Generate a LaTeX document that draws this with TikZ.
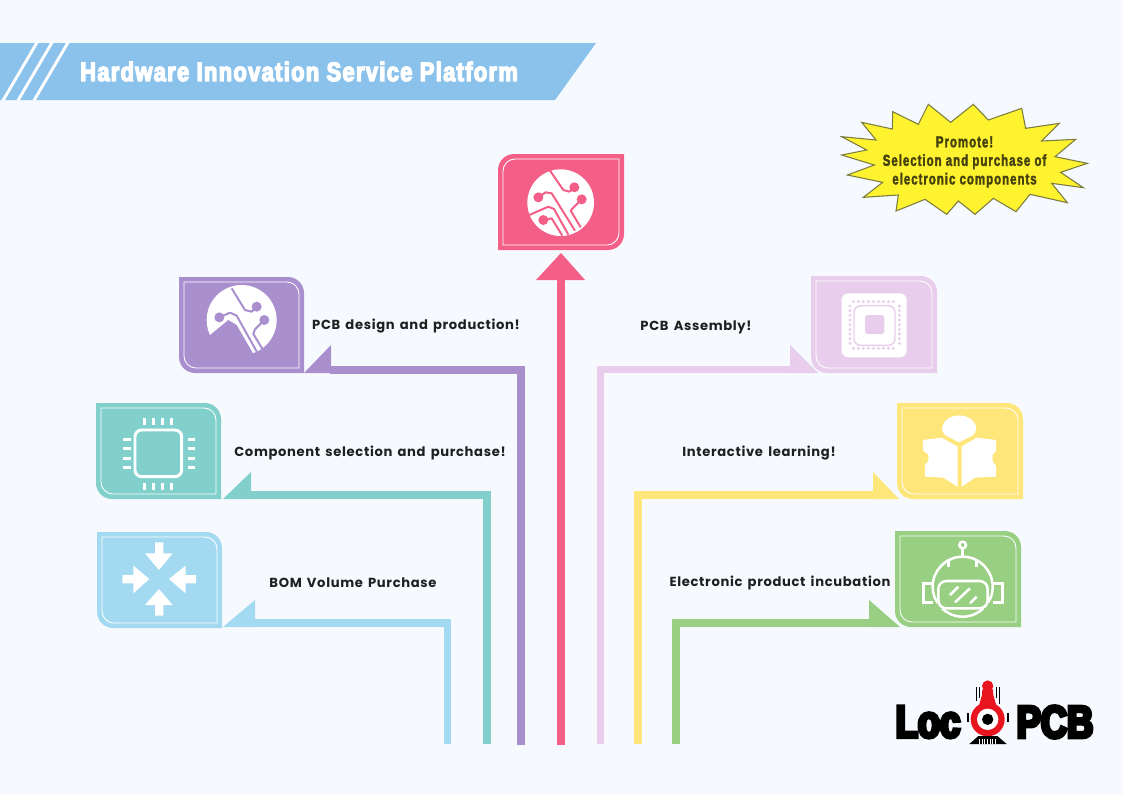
\documentclass[tikz,border=0pt]{standalone}
\usepackage{fontspec}
\setmainfont{Poppins}
\newfontfamily\titlefont[FakeStretch=.82,FakeBold=5,LetterSpace=5]{Liberation Sans Bold}
\newfontfamily\starfont[FakeStretch=.72,FakeBold=2,LetterSpace=6]{Liberation Sans Bold}
\newfontfamily\logofont[FakeStretch=.8,FakeBold=8]{Liberation Sans Bold}
\newfontfamily\labelfont[LetterSpace=5,WordSpace=1.5]{Poppins Bold}
\definecolor{bgc}{HTML}{F6FAFE}
\definecolor{bandc}{HTML}{8AC2EC}
\definecolor{pinkc}{HTML}{F45F87}
\definecolor{purc}{HTML}{A98FCE}
\definecolor{tealc}{HTML}{82D0CC}
\definecolor{bluec}{HTML}{A3D9F1}
\definecolor{palec}{HTML}{E9CDEC}
\definecolor{yelc}{HTML}{FEE67A}
\definecolor{grnc}{HTML}{98CF82}
\definecolor{starc}{HTML}{FFF22E}
\definecolor{stard}{HTML}{7C7C40}
\definecolor{startx}{HTML}{45420F}
\definecolor{logor}{HTML}{E8141E}
\tikzset{
  labeltext/.style={font=\labelfont\fontsize{9.85}{12}\selectfont,text=black!88,inner sep=0pt,anchor=center},
  startext/.style={font=\starfont\fontsize{12}{13.9}\selectfont,text=startx,inner sep=0pt,align=center},
  cardnode/.style={inner sep=0pt,minimum width=94.5pt,minimum height=72pt},
  conn/.style={line width=6pt},
  thinw/.style={line width=.65pt,white},
}
% TR+BL rounded
\newcommand{\pathA}[5]{(#1,#2) -- ({#3-#5},#2) .. controls ({#3-.45*#5},#2) and (#3,{#2+.45*#5}) .. (#3,{#2+#5}) -- (#3,#4) -- ({#1+#5},#4) .. controls ({#1+.45*#5},#4) and (#1,{#4-.45*#5}) .. (#1,{#4-#5}) -- cycle}
% TL+BR rounded
\newcommand{\pathB}[5]{({#1+#5},#2) -- (#3,#2) -- (#3,{#4-#5}) .. controls (#3,{#4-.45*#5}) and ({#3-.45*#5},#4) .. ({#3-#5},#4) -- (#1,#4) -- (#1,{#2+#5}) .. controls (#1,{#2+.45*#5}) and ({#1+.45*#5},#2) .. ({#1+#5},#2) -- cycle}
\newcommand{\cardA}[6]{%
  \fill[#6] \pathA{#2}{#3}{#4}{#5}{16};
  \draw[thinw] \pathA{#2+5}{#3+5}{#4-5}{#5-5}{12};
  \node[cardnode] (#1) at ({(#2+#4)/2},{(#3+#5)/2}) {};}
\newcommand{\cardB}[6]{%
  \fill[#6] \pathB{#2}{#3}{#4}{#5}{16};
  \draw[thinw] \pathB{#2+5}{#3+5}{#4-5}{#5-5}{12};
  \node[cardnode] (#1) at ({(#2+#4)/2},{(#3+#5)/2}) {};}
\begin{document}
\begin{tikzpicture}[x=.75pt,y=-.75pt]
\useasboundingbox (0,0) rectangle (1123,794);
\fill[bgc] (0,0) rectangle (1123,794);

% title band
\fill[bandc] (0,43) -- (596,43) -- (555,100) -- (0,100) -- cycle;
\draw[white,line width=2.2pt] (37,42.5) -- (3,100.5);
\draw[white,line width=2.2pt] (52,42.5) -- (18,100.5);
\draw[white,line width=2.2pt] (68,42.5) -- (34,100.5);
\node[font=\titlefont\fontsize{20}{22}\selectfont,text=white,inner sep=0pt,anchor=west] (title) at (80,71.5) {Hardware Innovation Service Platform};

% star
\begin{scope}[shift={(830,95)},scale=1/3]
\filldraw[fill=starc,draw=stard,line width=.8pt,line join=miter] (295,28)--(362,82)--(430,28)--(475,75)--(575,40)--(587,100)--(688,85)--(635,138)--(737,133)--(675,185)--(772,205)--(692,232)--(760,278)--(665,265)--(712,323)--(600,298)--(558,350)--(490,310)--(435,358)--(385,318)--(350,358)--(285,313)--(198,348)--(205,300)--(100,307)--(158,262)--(52,240)--(133,210)--(35,180)--(110,165)--(35,125)--(138,135)--(95,82)--(187,102)--(188,50)--(265,88)--cycle;
\end{scope}
\node[startext] (promo) at (964.5,162) {Promote!\\Selection and purchase of\\electronic components};

% cards
\cardB{cpink}{498}{154}{624}{250}{pinkc}
\cardA{cpur}{179}{277}{304}{373}{purc}
\cardA{cteal}{96}{403}{221}{499}{tealc}
\cardA{cblue}{97}{532}{222}{628}{bluec}
\cardA{cpale}{811}{276}{937}{373}{palec}
\cardA{cyel}{897}{403}{1023}{499}{yelc}
\cardA{cgrn}{895}{531}{1021}{627}{grnc}

% connectors
\coordinate (fpink) at (561,745);
\coordinate (hpink) at (561,279);
\draw[conn,pinkc] (fpink) -- (hpink);
\fill[pinkc] (561,253) -- (585,280) -- (536,280) -- cycle;

\coordinate (fpur) at (521,745);
\coordinate (hpur) at (330,369.5);
\draw[conn,purc] (fpur) |- (hpur);
\fill[purc] (304,373) -- (331,345) -- (331,373) -- cycle;

\coordinate (fteal) at (487,744);
\coordinate (hteal) at (250,495);
\draw[conn,tealc] (fteal) |- (hteal);
\fill[tealc] (223,499) -- (251,472) -- (251,499) -- cycle;

\coordinate (fblue) at (447.5,744);
\coordinate (hblue) at (254,623);
\draw[conn,bluec,line width=5.6pt] (fblue) |- (hblue);
\fill[bluec] (223,627) -- (255,600) -- (255,627) -- cycle;

\coordinate (fpale) at (600.5,744);
\coordinate (hpale) at (791,369.5);
\draw[conn,palec,line width=5.6pt] (fpale) |- (hpale);
\fill[palec] (818,373) -- (790,345) -- (790,373) -- cycle;

\coordinate (fyel) at (638,744);
\coordinate (hyel) at (874,495);
\draw[conn,yelc] (fyel) |- (hyel);
\fill[yelc] (899,499) -- (873,472) -- (873,499) -- cycle;

\coordinate (fgrn) at (676,744);
\coordinate (hgrn) at (870,623);
\draw[conn,grnc] (fgrn) |- (hgrn);
\fill[grnc] (900,627) -- (869,600) -- (869,627) -- cycle;

% labels
\node[labeltext] (lpur) at (416,326) {PCB design and production!};
\node[labeltext] (lpale) at (696,327) {PCB Assembly!};
\node[labeltext] (lteal) at (370,453) {Component selection and purchase!};
\node[labeltext] (lyel) at (759,453) {Interactive learning!};
\node[labeltext] (lblue) at (353,583) {BOM Volume Purchase};
\node[labeltext] (lgrn) at (780,583) {Electronic product incubation};

% pink icon
\begin{scope}[shift={(480,140)},scale=1/3]
\fill[white] (242,188) circle (100);
\begin{scope}[pinkc,line width=1.5pt,line join=round]
\draw (210,92) -- (250,150) -- (268,155) -- (283,142);
\fill (283,142) circle (15);
\fill (175,172) circle (15);
\draw (175,172) -- (197,157) -- (215,160) -- (285,272);
\fill (305,178) circle (15);
\draw (305,178) -- (278,205) -- (272,212) -- (302,262);
\draw (148,225) -- (205,200) -- (222,207) -- (265,284);
\fill (190,240) circle (15);
\draw (190,240) -- (215,235) -- (247,287);
\end{scope}
\end{scope}

% purple icon
\begin{scope}[shift={(170,270)},scale=1/3]
\fill[white] (215,150) circle (105);
\fill[purc] (95,205) -- (118,197) -- (175,150) -- (200,165) -- (252,255) -- (280,262) -- (200,290) -- (95,260) -- cycle;
\begin{scope}[purc,line width=1.5pt,line join=round]
\draw (185,55) -- (225,120) -- (245,125) -- (260,110);
\fill (260,110) circle (15);
\fill (148,142) circle (15);
\draw (148,142) -- (180,128) -- (200,137) -- (262,248);
\fill (283,150) circle (15);
\draw (283,150) -- (255,178) -- (250,192) -- (278,238);
\end{scope}
\end{scope}

% pale icon
\begin{scope}[shift={(780,270)},scale=1/3]
\fill[white,rounded corners=5pt] (185,70) rectangle (380,262);
\foreach \d in {0,1,...,8} {
  \fill[palec] ({220+\d*15},95) circle (5);
  \fill[palec] ({220+\d*15},235) circle (5);
  \fill[palec] (210,{108+\d*14}) circle (5);
  \fill[palec] (358,{108+\d*14}) circle (5);
}
\draw[palec,line width=1.1pt,rounded corners=5pt] (222,107) rectangle (345,226);
\fill[palec,rounded corners=2pt] (255,135) rectangle (313,192);
\end{scope}

% teal icon
\begin{scope}[shift={(90,395)},scale=1/3]
\draw[white,line width=2.2pt,rounded corners=5pt] (135,105) rectangle (275,245);
\foreach \p in {163,190,217,245} {
  \draw[white,line width=2pt] (\p,70) -- (\p,90);
  \draw[white,line width=2pt] (\p,264) -- (\p,285);
}
\foreach \p in {133,160,190,217} {
  \draw[white,line width=2pt] (100,\p) -- (122,\p);
  \draw[white,line width=2pt] (293,\p) -- (316,\p);
}
\end{scope}

% yellow icon
\begin{scope}[shift={(860,395)},scale=1/3]
\fill[white] (297,142) -- (258,122) .. controls (250,115) and (246,108) .. (246,102) .. controls (250,48) and (345,48) .. (349,102) .. controls (349,108) and (345,115) .. (337,122) -- cycle;
\fill[white] (188,135) -- (245,128) -- (293,155) -- (293,275) -- (250,248) -- (195,245) -- (195,210) -- (205,198) -- (205,178) -- (190,168) -- cycle;
\fill[white] (408,135) -- (350,128) -- (305,155) -- (305,275) -- (345,248) -- (408,245) -- (408,212) -- (398,200) -- (398,178) -- (408,168) -- cycle;
\end{scope}

% blue icon
\begin{scope}[shift={(90,525)},scale=1/3]
\fill[white] (195,52) -- (220,52) -- (220,85) -- (248,85) -- (207,135) -- (165,85) -- (195,85) -- cycle;
\fill[white] (195,272) -- (220,272) -- (220,240) -- (248,240) -- (207,192) -- (165,240) -- (195,240) -- cycle;
\fill[white] (97,150) -- (97,175) -- (130,175) -- (130,205) -- (178,162) -- (130,122) -- (130,150) -- cycle;
\fill[white] (318,150) -- (318,175) -- (287,175) -- (287,205) -- (237,162) -- (287,122) -- (287,150) -- cycle;
\end{scope}

% green icon
\begin{scope}[shift={(860,525)},scale=1/3]
\begin{scope}[white,line width=1.9pt]
\draw (308,60) circle (10);
\draw (308,70) -- (308,92);
\draw (308,185) circle (90);
\draw (218,175) -- (190,175) -- (190,232) -- (218,232);
\draw (398,175) -- (428,175) -- (428,232) -- (398,232);
\fill[grnc] (232,165) rectangle (386,252);
\draw[rounded corners=6pt] (235,168) rectangle (383,250);
\draw (265,103) -- (265,125);
\draw (350,103) -- (350,125);
\draw (270,210) -- (295,185);
\draw (285,232) -- (330,190);
\draw (330,235) -- (350,215);
\end{scope}
\end{scope}

% logo
\node[font=\logofont\fontsize{34}{36}\selectfont,text=black,inner sep=0pt,anchor=center] (logoa) at (928,722) {Loc};
\node[font=\logofont\fontsize{34}{36}\selectfont,text=black,inner sep=0pt,anchor=center] (logob) at (1055,722) {PCB};
\begin{scope}[shift={(880,670)},scale=1/3]
\draw[black,line width=.9pt] (290,52) -- (290,92);
\draw[black,line width=.9pt] (298,52) -- (298,85);
\draw[black,line width=.9pt] (350,52) -- (350,85);
\draw[black,line width=.9pt] (358,52) -- (358,103);
\fill[logor] (323,48) circle (17);
\fill[logor] (307,58) -- (339,58) -- (340,75) -- (350,110) -- (296,110) -- (306,75) -- cycle;
\fill[logor] (323,148) circle (51);
\fill[white] (323,148) circle (32);
\fill[black] (323,148) circle (17);
\fill[black] (262,130) rectangle (268,157);
\fill[black] (380,130) rectangle (386,157);
\fill[black] (268,222) -- (295,198) -- (352,198) -- (380,222) -- cycle;
\foreach \s in {298,306,...,346} \draw[white,line width=.35pt] (\s,207) -- (\s,222);
\end{scope}
\end{tikzpicture}
\end{document}
